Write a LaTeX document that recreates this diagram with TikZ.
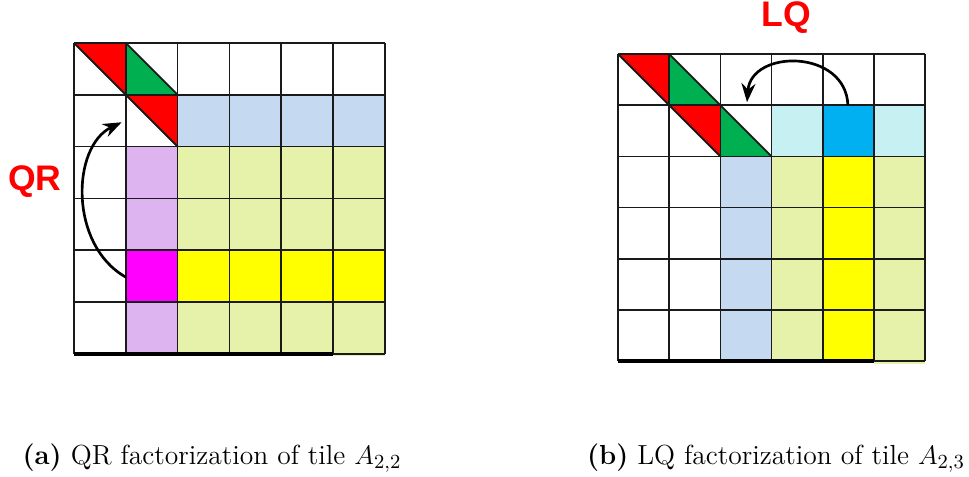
\documentclass[tikz,border=0pt]{standalone}
\usepackage{fontspec}
\newfontfamily\tagfont{Liberation Sans}
\usetikzlibrary{arrows.meta}
\definecolor{hhred}{HTML}{FF0000}
\definecolor{hhgreen}{HTML}{00B050}
\definecolor{trblue}{HTML}{C5D9F1}
\definecolor{trlilac}{HTML}{DDB3F0}
\definecolor{trmagenta}{HTML}{FF00FF}
\definecolor{tryellow}{HTML}{FFFF00}
\definecolor{trlime}{HTML}{E6F2AA}
\definecolor{trcyan}{HTML}{C6F0F2}
\definecolor{trsky}{HTML}{00B0F0}
\definecolor{gridblk}{HTML}{1A1A1A}

\tikzset{
  tilegrid/.style={gridblk,line width=0.8pt},
  opname/.style={text=hhred,font=\tagfont\bfseries\fontsize{16}{16}\selectfont},
  sweep/.style={->,line width=1.2pt},
  subcap/.style={anchor=base,font=\fontsize{12.4}{14}\selectfont}
}

\begin{document}
\begin{tikzpicture}[>=Stealth,x=0.45pt,y=-0.45pt]
  \useasboundingbox (0,0) rectangle (969,476);

  % --- (a) QR on tile A_{2,2} ---
  \begin{scope}[shift={(74,43)},x=23.31pt,y=-23.31pt]
    \fill[trblue] (2,1) rectangle (6,2);
    \fill[trlilac] (1,2) rectangle (2,6);
    \fill[trmagenta] (1,4) rectangle (2,5);
    \fill[trlime] (2,2) rectangle (6,6);
    \fill[trlime] (5,5) rectangle (6,6.05);
    \fill[tryellow] (2,4) rectangle (6,5);
    % householder triangles
    \fill[hhred] (0,0) -- (1,0) -- (1,1) -- cycle;
    \fill[hhgreen] (1,0) -- (1,1) -- (2,1) -- cycle;
    \fill[hhred] (1,1) -- (2,1) -- (2,2) -- cycle;
    \foreach \k in {0,...,6} {
      \draw[tilegrid] (\k,0) -- (\k,6);
      \draw[tilegrid] (0,\k) -- (6,\k);
    }
    \draw[tilegrid] (0,0) -- (2,2) (1,0) -- (2,1);
    \draw[line width=1.6pt] (0,6) -- (5,6);
    % arrow
    \coordinate (qrfrom) at (1,4.52);
    \coordinate (qrto) at (0.92,1.53);
    \draw[sweep] (qrfrom) .. controls (-0.1,3.9) and (-0.05,2.0) .. (qrto);
  \end{scope}
  \node[opname] (qrtag) at (35,182) {QR};

  % --- (b) LQ on tile A_{2,3} ---
  \begin{scope}[shift={(618,54)},x=23.04pt,y=-23.04pt]
    \fill[trcyan] (3,1) rectangle (6,2);
    \fill[trsky] (4,1) rectangle (5,2);
    \fill[trblue] (2,2) rectangle (3,6);
    \fill[trlime] (3,2) rectangle (6,6);
    \fill[trlime] (5,5) rectangle (6,6.05);
    \fill[tryellow] (4,2) rectangle (5,6);
    % householder triangles
    \fill[hhred] (0,0) -- (1,0) -- (1,1) -- cycle;
    \fill[hhgreen] (1,0) -- (1,1) -- (2,1) -- cycle;
    \fill[hhred] (1,1) -- (2,1) -- (2,2) -- cycle;
    \fill[hhgreen] (2,1) -- (2,2) -- (3,2) -- cycle;
    \foreach \k in {0,...,6} {
      \draw[tilegrid] (\k,0) -- (\k,6);
      \draw[tilegrid] (0,\k) -- (6,\k);
    }
    \draw[tilegrid] (0,0) -- (2,2) (1,0) -- (3,2);
    \draw[line width=1.6pt] (0,6) -- (5,6);
    % arrow
    \coordinate (lqfrom) at (4.49,1.0);
    \coordinate (lqto) at (2.52,0.94);
    \draw[sweep] (lqfrom) .. controls (4.45,-0.1) and (2.6,-0.1) .. (lqto);
  \end{scope}
  \node[opname] (lqtag) at (786,18) {LQ};

  % captions
  \node[subcap] (capa) at (212,464) {\textbf{(a)} QR factorization of tile $A_{2,2}$};
  \node[subcap] (capb) at (776,464) {\textbf{(b)} LQ factorization of tile $A_{2,3}$};

\end{tikzpicture}
\end{document}
